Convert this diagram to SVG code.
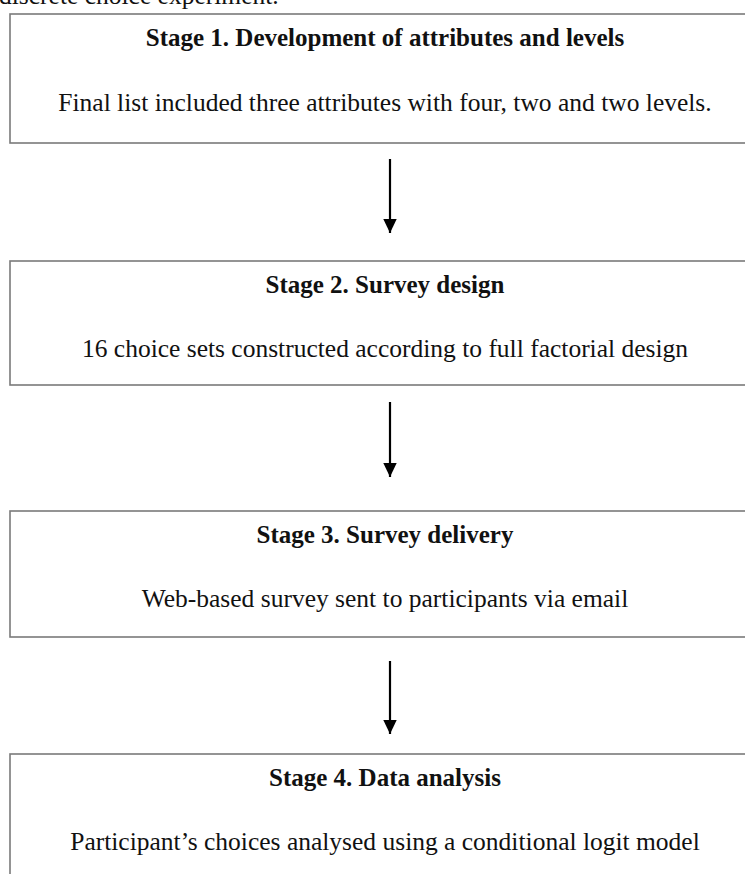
<svg xmlns="http://www.w3.org/2000/svg" width="745" height="874" viewBox="0 0 745 874">
<style>
  .box { fill: #ffffff; stroke: #7a7a7a; stroke-width: 1.6; }
  .title { font-family: "Liberation Serif", "Times New Roman", serif; font-weight: bold; font-size: 25px; fill: #111; text-anchor: middle; }
  .body { font-family: "Liberation Serif", "Times New Roman", serif; font-size: 25.5px; fill: #111; text-anchor: middle; }
  .cap { font-family: "Liberation Serif", "Times New Roman", serif; font-size: 25.5px; fill: #111; }
  .arrow { stroke: #000; stroke-width: 2.2; fill: none; }
</style>
<defs>
  <marker id="head" markerUnits="userSpaceOnUse" markerWidth="15" markerHeight="14" refX="14" refY="7" orient="auto" viewBox="0 0 15 14">
    <path d="M0,0.3 L14,7 L0,13.7 Z" fill="#000"/>
  </marker>
</defs>
<rect width="745" height="874" fill="#ffffff"/>
<text class="cap" x="-1" y="4">discrete choice experiment.</text>

<g id="stage1">
  <rect class="box" x="10" y="14" width="745" height="129"/>
  <text class="title" x="385" y="46">Stage 1. Development of attributes and levels</text>
  <text class="body" x="385" y="111">Final list included three attributes with four, two and two levels.</text>
</g>
<g id="stage2">
  <rect class="box" x="10" y="261" width="745" height="124"/>
  <text class="title" x="385" y="293">Stage 2. Survey design</text>
  <text class="body" x="385" y="357">16 choice sets constructed according to full factorial design</text>
</g>
<g id="stage3">
  <rect class="box" x="10" y="511" width="745" height="126"/>
  <text class="title" x="385" y="543">Stage 3. Survey delivery</text>
  <text class="body" x="385" y="607">Web-based survey sent to participants via email</text>
</g>
<g id="stage4">
  <rect class="box" x="10" y="754" width="745" height="140"/>
  <text class="title" x="385" y="786">Stage 4. Data analysis</text>
  <text class="body" x="385" y="850">Participant’s choices analysed using a conditional logit model</text>
</g>

<g id="connectors">
  <path class="arrow" d="M390,159 L390,233" marker-end="url(#head)"/>
  <path class="arrow" d="M390,402 L390,477" marker-end="url(#head)"/>
  <path class="arrow" d="M390,661 L390,734" marker-end="url(#head)"/>
</g>
</svg>
